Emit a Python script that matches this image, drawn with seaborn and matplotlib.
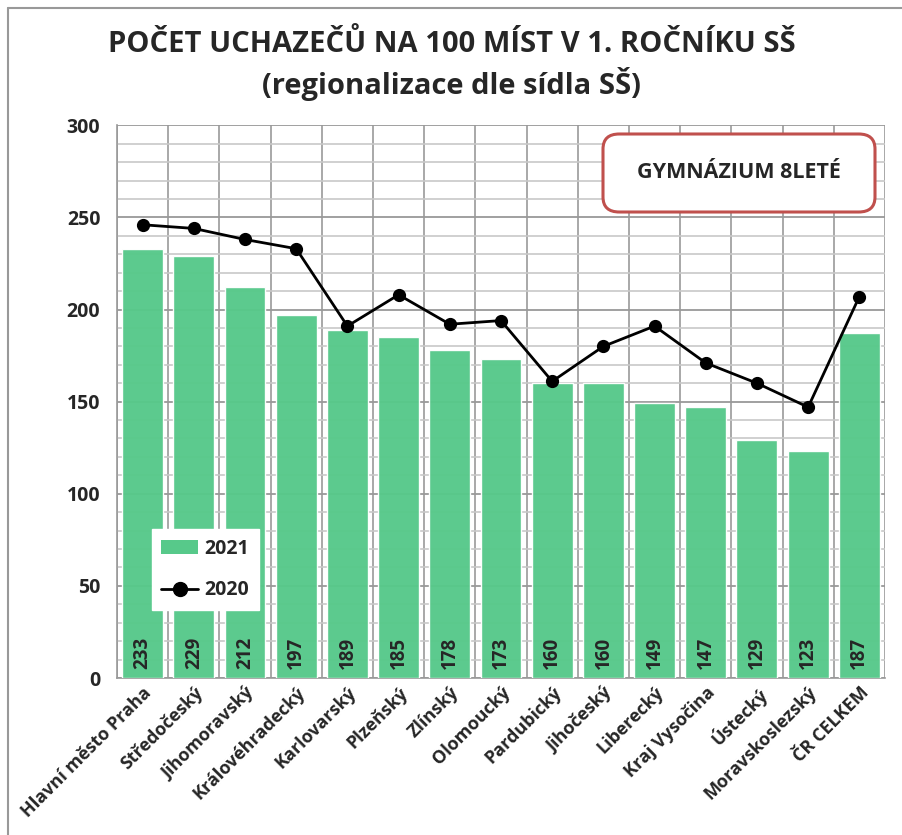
import pandas as pd
import numpy as np
import seaborn as sns
import matplotlib.pyplot as plt
from matplotlib.patches import Patch, FancyBboxPatch
from matplotlib.lines import Line2D
from matplotlib.ticker import MultipleLocator

# data
regions = ['Hlavní město Praha', 'Středočeský', 'Jihomoravský', 'Královéhradecký',
           'Karlovarský', 'Plzeňský', 'Zlínský', 'Olomoucký', 'Pardubický',
           'Jihočeský', 'Liberecký', 'Kraj Vysočina', 'Ústecký',
           'Moravskoslezský', 'ČR CELKEM']
v2021 = [233, 229, 212, 197, 189, 185, 178, 173, 160, 160, 149, 147, 129, 123, 187]
v2020 = [246, 244, 238, 233, 191, 208, 192, 194, 161, 180, 191, 171, 160, 147, 207]

df = pd.DataFrame({'region': regions, '2021': v2021, '2020': v2020})

sns.set_style('white')
plt.rcParams['font.family'] = ['Open Sans', 'DejaVu Sans']
plt.rcParams['font.weight'] = 'bold'

green = '#57c98a'

fig = plt.figure(figsize=(9.03, 8.35), dpi=100)
ax = fig.add_axes([0.1296, 0.188, 0.8504, 0.662])

sns.barplot(data=df, x='region', y='2021', color=green, width=0.8,
            saturation=1, alpha=0.97, ax=ax, zorder=3)
sns.pointplot(data=df, x='region', y='2020', color='black', markers='o',
              markersize=8, linewidth=2, ax=ax, zorder=5)

ax.set_ylim(0, 300)
ax.set_xlim(-0.5, len(regions) - 0.5)
ax.yaxis.set_major_locator(MultipleLocator(50))
ax.yaxis.set_minor_locator(MultipleLocator(10))
ax.xaxis.set_minor_locator(MultipleLocator(1, offset=0.5))
ax.grid(which='major', axis='y', color='#999999', lw=1.3, zorder=0)
ax.grid(which='minor', axis='y', color='#c8c8c8', lw=1.2, zorder=0)
ax.grid(which='minor', axis='x', color='#999999', lw=1.2, zorder=0)
ax.set_axisbelow(True)

for s in ['top', 'right']:
    ax.spines[s].set_visible(False)
ax.spines['left'].set_color('#999999')
ax.spines['bottom'].set_color('#999999')
ax.spines['left'].set_linewidth(1.2)
ax.spines['bottom'].set_linewidth(1.2)

ax.tick_params(axis='y', which='major', length=6, color='#999999', labelsize=14, pad=6)
ax.tick_params(axis='y', which='minor', length=0)
ax.tick_params(axis='x', which='major', length=0, labelsize=13, pad=4)
ax.tick_params(axis='x', which='minor', length=6, color='#999999')
ax.set_xticks(range(len(regions)))
ax.set_xticklabels(regions, rotation=45, ha='right', rotation_mode='anchor')
for lab in ax.get_yticklabels() + ax.get_xticklabels():
    lab.set_fontweight('bold')
ax.set_xlabel('')
ax.set_ylabel('')

# value labels in bars
for i, v in enumerate(v2021):
    ax.text(i, 5, str(v), rotation=90, ha='center', va='bottom',
            fontsize=13.5, fontweight='bold', zorder=6)

# title
fig.text(0.5, 0.922, 'POČET UCHAZEČŮ NA 100 MÍST V 1. ROČNÍKU SŠ\n(regionalizace dle sídla SŠ)',
         ha='center', va='center', fontsize=21, fontweight='bold', linespacing=1.3)

# category box
box = FancyBboxPatch((603 / 903, 1 - 212 / 835), 272 / 903, 78 / 835,
                     boxstyle='round,pad=0,rounding_size=0.018',
                     transform=fig.transFigure, facecolor='white',
                     edgecolor='#c0504d', lw=2.2, zorder=10)
fig.patches.append(box)
fig.text(739 / 903, 1 - 172 / 835, 'GYMNÁZIUM 8LETÉ', ha='center', va='center',
         fontsize=15.5, fontweight='bold', zorder=11)

# legend
handles = [Patch(facecolor=green, edgecolor='none', label='2021'),
           Line2D([0], [0], color='black', lw=2, marker='o', markersize=10, label='2020')]
leg = ax.legend(handles=handles, loc='lower left', bbox_to_anchor=(0.045, 0.123),
                frameon=True, fancybox=False, framealpha=1, edgecolor='white',
                fontsize=14, handlelength=1.9, labelspacing=1.1, borderpad=0.5,
                handletextpad=0.3, borderaxespad=0)
leg.set_zorder(10)
for t in leg.get_texts():
    t.set_fontweight('bold')

# chart border (top and left only)
fig.add_artist(Line2D([8 / 903, 1.0], [1 - 8 / 835] * 2, color='#999999', lw=1.5,
                      transform=fig.transFigure))
fig.add_artist(Line2D([8 / 903] * 2, [0, 1 - 8 / 835], color='#999999', lw=1.5,
                      transform=fig.transFigure))

fig.savefig('out.png', dpi=100)
